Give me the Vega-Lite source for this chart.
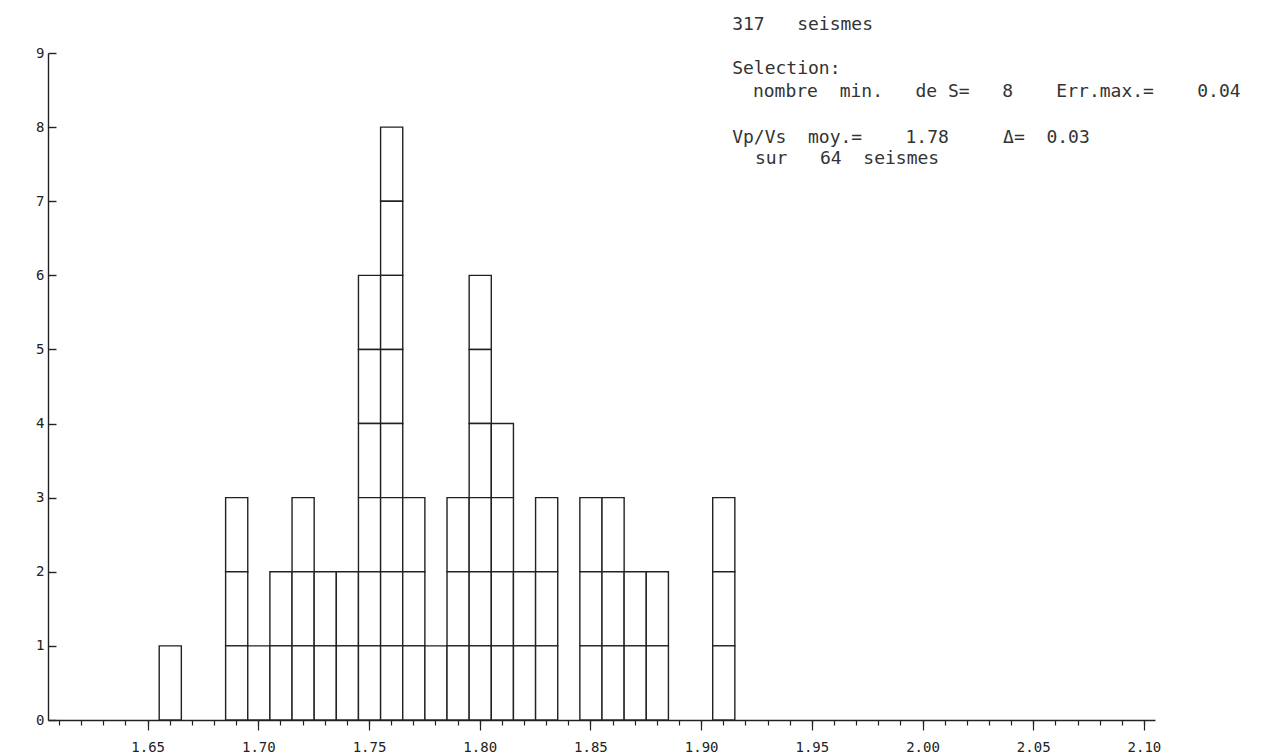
{
  "$schema": "https://vega.github.io/schema/vega-lite/v6.json",
  "width": 1107,
  "height": 667,
  "autosize": "none",
  "padding": {"left": 48, "top": 53, "right": 119, "bottom": 33},
  "background": "white",
  "config": {"view": {"stroke": null}, "font": "DejaVu Sans Mono"},
  "datasets": {
    "seismes": [
      {"id": 1, "vpvs": 1.66},
      {"id": 2, "vpvs": 1.69}, {"id": 3, "vpvs": 1.69}, {"id": 4, "vpvs": 1.69},
      {"id": 5, "vpvs": 1.70},
      {"id": 6, "vpvs": 1.71}, {"id": 7, "vpvs": 1.71},
      {"id": 8, "vpvs": 1.72}, {"id": 9, "vpvs": 1.72}, {"id": 10, "vpvs": 1.72},
      {"id": 11, "vpvs": 1.73}, {"id": 12, "vpvs": 1.73},
      {"id": 13, "vpvs": 1.74}, {"id": 14, "vpvs": 1.74},
      {"id": 15, "vpvs": 1.75}, {"id": 16, "vpvs": 1.75}, {"id": 17, "vpvs": 1.75}, {"id": 18, "vpvs": 1.75}, {"id": 19, "vpvs": 1.75}, {"id": 20, "vpvs": 1.75},
      {"id": 21, "vpvs": 1.76}, {"id": 22, "vpvs": 1.76}, {"id": 23, "vpvs": 1.76}, {"id": 24, "vpvs": 1.76}, {"id": 25, "vpvs": 1.76}, {"id": 26, "vpvs": 1.76}, {"id": 27, "vpvs": 1.76}, {"id": 28, "vpvs": 1.76},
      {"id": 29, "vpvs": 1.77}, {"id": 30, "vpvs": 1.77}, {"id": 31, "vpvs": 1.77},
      {"id": 32, "vpvs": 1.78},
      {"id": 33, "vpvs": 1.79}, {"id": 34, "vpvs": 1.79}, {"id": 35, "vpvs": 1.79},
      {"id": 36, "vpvs": 1.80}, {"id": 37, "vpvs": 1.80}, {"id": 38, "vpvs": 1.80}, {"id": 39, "vpvs": 1.80}, {"id": 40, "vpvs": 1.80}, {"id": 41, "vpvs": 1.80},
      {"id": 42, "vpvs": 1.81}, {"id": 43, "vpvs": 1.81}, {"id": 44, "vpvs": 1.81}, {"id": 45, "vpvs": 1.81},
      {"id": 46, "vpvs": 1.82}, {"id": 47, "vpvs": 1.82},
      {"id": 48, "vpvs": 1.83}, {"id": 49, "vpvs": 1.83}, {"id": 50, "vpvs": 1.83},
      {"id": 51, "vpvs": 1.85}, {"id": 52, "vpvs": 1.85}, {"id": 53, "vpvs": 1.85},
      {"id": 54, "vpvs": 1.86}, {"id": 55, "vpvs": 1.86}, {"id": 56, "vpvs": 1.86},
      {"id": 57, "vpvs": 1.87}, {"id": 58, "vpvs": 1.87},
      {"id": 59, "vpvs": 1.88}, {"id": 60, "vpvs": 1.88},
      {"id": 61, "vpvs": 1.91}, {"id": 62, "vpvs": 1.91}, {"id": 63, "vpvs": 1.91}
    ]
  },
  "resolve": {"axis": {"x": "independent", "y": "independent"}},
  "layer": [
    {
      "data": {"name": "seismes"},
      "mark": {"type": "bar", "fill": "white", "stroke": "#222", "strokeWidth": 1.4, "binSpacing": 0},
      "encoding": {
        "x": {
          "field": "vpvs",
          "type": "quantitative",
          "bin": {"step": 0.01, "extent": [1.605, 2.105], "nice": false},
          "scale": {"domain": [1.605, 2.105], "nice": false, "zero": false},
          "axis": {
            "orient": "bottom",
            "title": null,
            "values": [1.61,1.62,1.63,1.64,1.65,1.66,1.67,1.68,1.69,1.70,1.71,1.72,1.73,1.74,1.75,1.76,1.77,1.78,1.79,1.80,1.81,1.82,1.83,1.84,1.85,1.86,1.87,1.88,1.89,1.90,1.91,1.92,1.93,1.94,1.95,1.96,1.97,1.98,1.99,2.00,2.01,2.02,2.03,2.04,2.05,2.06,2.07,2.08,2.09,2.10],
            "labels": false,
            "grid": false,
            "tickSize": 5,
            "tickColor": "#222",
            "tickWidth": 1.2,
            "domainColor": "#222",
            "domainWidth": 1.4
          }
        },
        "y": {
          "aggregate": "count",
          "type": "quantitative",
          "scale": {"domain": [0, 9], "nice": false, "zero": true},
          "axis": {
            "orient": "left",
            "title": null,
            "values": [0,1,2,3,4,5,6,7,8,9],
            "grid": false,
            "ticks": false,
            "domainColor": "#222",
            "domainWidth": 1.4,
            "labelFont": "DejaVu Sans Mono",
            "labelFontSize": 14,
            "labelColor": "#222",
            "labelPadding": 4
          }
        },
        "detail": {"field": "id", "type": "nominal"}
      }
    },
    {
      "data": {"values": [{}]},
      "mark": {"type": "text", "align": "left", "baseline": "alphabetic", "font": "DejaVu Sans Mono", "fontSize": 18, "color": "#333"},
      "encoding": {
        "x": {
          "datum": 1.914,
          "type": "quantitative",
          "scale": {"domain": [1.605, 2.105], "nice": false, "zero": false},
          "axis": {
            "orient": "bottom",
            "title": null,
            "values": [1.65,1.70,1.75,1.80,1.85,1.90,1.95,2.00,2.05,2.10],
            "format": ".2f",
            "domain": false,
            "grid": false,
            "tickSize": 10,
            "tickColor": "#222",
            "tickWidth": 1.2,
            "labelFont": "DejaVu Sans Mono",
            "labelFontSize": 14,
            "labelColor": "#222",
            "labelPadding": 10,
            "labelOverlap": false,
            "labelFlush": false
          }
        },
        "y": {
          "datum": 9.31,
          "type": "quantitative",
          "scale": {"domain": [0, 9], "nice": false, "zero": true},
          "axis": {
            "orient": "left",
            "title": null,
            "values": [0,1,2,3,4,5,6,7,8,9],
            "offset": -8,
            "domain": false,
            "labels": false,
            "grid": false,
            "tickSize": 8,
            "tickColor": "#222",
            "tickWidth": 1.4
          }
        },
        "text": {"value": "317\u00a0\u00a0\u00a0seismes"}
      }
    },
    {
      "data": {"values": [{}]},
      "mark": {"type": "text", "align": "left", "baseline": "alphabetic", "font": "DejaVu Sans Mono", "fontSize": 18, "color": "#333"},
      "encoding": {
        "x": {"datum": 1.914, "type": "quantitative", "axis": null},
        "y": {"datum": 8.717, "type": "quantitative", "axis": null},
        "text": {"value": "Selection:"}
      }
    },
    {
      "data": {"values": [{}]},
      "mark": {"type": "text", "align": "left", "baseline": "alphabetic", "font": "DejaVu Sans Mono", "fontSize": 18, "color": "#333"},
      "encoding": {
        "x": {"datum": 1.9234, "type": "quantitative", "axis": null},
        "y": {"datum": 8.406, "type": "quantitative", "axis": null},
        "text": {"value": "nombre\u00a0\u00a0min.\u00a0\u00a0\u00a0de\u00a0S=\u00a0\u00a0\u00a08\u00a0\u00a0\u00a0\u00a0Err.max.=\u00a0\u00a0\u00a0\u00a00.04"}
      }
    },
    {
      "data": {"values": [{}]},
      "mark": {"type": "text", "align": "left", "baseline": "alphabetic", "font": "DejaVu Sans Mono", "fontSize": 18, "color": "#333"},
      "encoding": {
        "x": {"datum": 1.914, "type": "quantitative", "axis": null},
        "y": {"datum": 7.786, "type": "quantitative", "axis": null},
        "text": {"value": "Vp/Vs\u00a0\u00a0moy.=\u00a0\u00a0\u00a0\u00a01.78\u00a0\u00a0\u00a0\u00a0\u00a0Δ=\u00a0\u00a00.03"}
      }
    },
    {
      "data": {"values": [{}]},
      "mark": {"type": "text", "align": "left", "baseline": "alphabetic", "font": "DejaVu Sans Mono", "fontSize": 18, "color": "#333"},
      "encoding": {
        "x": {"datum": 1.9243, "type": "quantitative", "axis": null},
        "y": {"datum": 7.501, "type": "quantitative", "axis": null},
        "text": {"value": "sur\u00a0\u00a0\u00a064\u00a0\u00a0seismes"}
      }
    }
  ]
}
